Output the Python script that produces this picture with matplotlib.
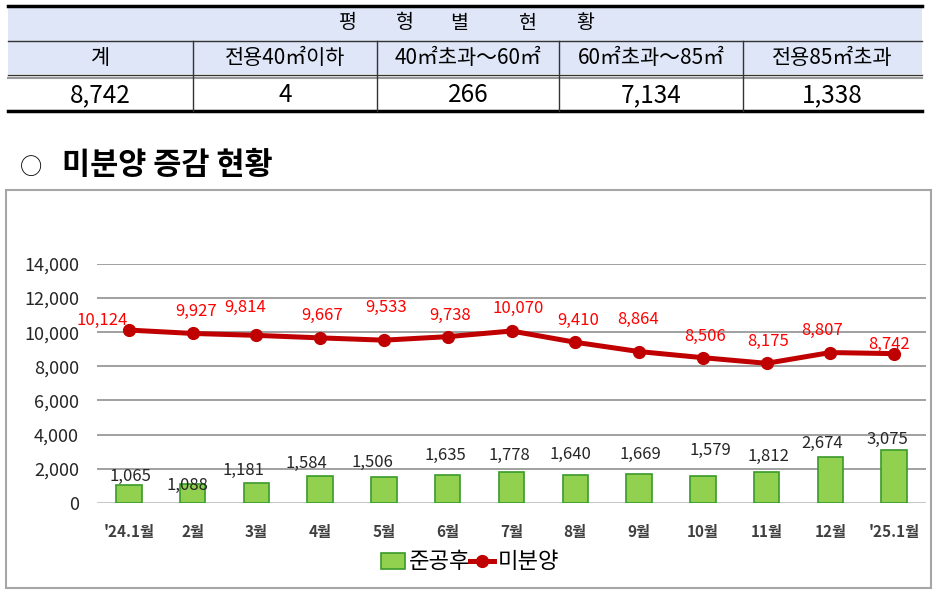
import matplotlib
matplotlib.use("Agg")
import matplotlib.pyplot as plt
from matplotlib.patches import Rectangle
from matplotlib.lines import Line2D

plt.rcParams['font.family'] = ['Noto Sans CJK KR', 'DejaVu Sans']

# 평형별 현황 표
table_title = ["평", "형", "별", "현", "황"]
size_headers = ["계", "전용40㎡이하", "40㎡초과～60㎡", "60㎡초과～85㎡", "전용85㎡초과"]
size_values = [8742, 4, 266, 7134, 1338]

# 미분양 증감 현황
months = ["'24.1월", "2월", "3월", "4월", "5월", "6월", "7월", "8월", "9월",
          "10월", "11월", "12월", "'25.1월"]
after_completion = [1065, 1088, 1181, 1584, 1506, 1635, 1778, 1640, 1669, 1579, 1812, 2674, 3075]
unsold = [10124, 9927, 9814, 9667, 9533, 9738, 10070, 9410, 8864, 8506, 8175, 8807, 8742]

# 라벨 위치 미세 조정 (pixel)
title_char_dx = [-118, -61, -7, 62, 119]
line_label_off = [(-27, 10), (3, 22), (-11, 28), (2, 22), (2, 33), (2, 21), (7, 23),
                  (3, 22), (-1, 32), (2, 21), (2, 22), (-8, 22), (-5, 9)]
bar_label_off = [(2, 8), (-5, -1), (-13, 12), (-14, 12), (-12, 15), (-2, 19), (-2, 17),
                 (-5, 20), (1, 20), (8, 25), (2, 15), (-8, 14), (-7, 11)]

W, H = 936, 592
fig = plt.figure(figsize=(W / 100, H / 100), dpi=100)

# 배경(픽셀 좌표)용 축
bg = fig.add_axes([0, 0, 1, 1])
bg.set_xlim(0, W)
bg.set_ylim(H, 0)
bg.axis('off')

# --- 표 ---
tx0, tx1 = 8, 922
col_edges = [tx0, 193, 377, 559, 743, tx1]
bg.add_patch(Rectangle((tx0, 6), tx1 - tx0, 68, facecolor='#dfe6f7', edgecolor='none'))
bg.plot([tx0, tx1], [6, 6], color='black', lw=2.5)
bg.plot([tx0, tx1], [41, 41], color='#333333', lw=1)
bg.plot([tx0, tx1], [74.5, 74.5], color='#333333', lw=1)
bg.plot([tx0, tx1], [77.5, 77.5], color='#999999', lw=1.5)
bg.plot([tx0, tx1], [111, 111], color='black', lw=2.5)
for x in col_edges[1:-1]:
    bg.plot([x, x], [41, 111], color='#333333', lw=1)

for ch, dx in zip(table_title, title_char_dx):
    bg.text(466 + dx, 23, ch, ha='center', va='center', fontsize=14, color='black')
for i, (h, v) in enumerate(zip(size_headers, size_values)):
    cx = (col_edges[i] + col_edges[i + 1]) / 2
    bg.text(cx, 58, h, ha='center', va='center', fontsize=15, color='black')
    bg.text(cx, 95, f"{v:,}", ha='center', va='center', fontsize=17.5, color='black')

# --- 제목 ---
bg.text(20, 167, "○", ha='left', va='center', fontsize=16, color='black')
bg.text(62, 165, "미분양 증감 현황", ha='left', va='center', fontsize=22,
        fontweight='bold', color='black')

# --- 차트 테두리 ---
bg.add_patch(Rectangle((6, 190), 925, 398, facecolor='none', edgecolor='#a6a6a6', lw=1.5))

# --- 차트 ---
ax_l, ax_r, ax_t, ax_b = 97, 926, 264, 502.7
ax = fig.add_axes([ax_l / W, (H - ax_b) / H, (ax_r - ax_l) / W, (ax_b - ax_t) / H])
ax.set_facecolor('none')
x = list(range(len(months)))

ax.bar(x, after_completion, width=0.4, color='#92d050', edgecolor='#3a9a2a',
       linewidth=1.2, zorder=2, label='준공후')
ax.plot(x, unsold, color='#c00000', lw=3.6, marker='o', markersize=8.5,
        zorder=4, label='미분양')

for i, v in enumerate(unsold):
    dx, dy = line_label_off[i]
    ax.annotate(f"{v:,}", (i, v), xytext=(dx, dy), textcoords='offset pixels',
                ha='center', va='center', fontsize=12, color='#ff0000', zorder=5)
for i, v in enumerate(after_completion):
    dx, dy = bar_label_off[i]
    ax.annotate(f"{v:,}", (i, v), xytext=(dx, dy), textcoords='offset pixels',
                ha='center', va='center', fontsize=12, color='#262626', zorder=5)

ax.set_xlim(-0.5, len(months) - 0.5)
ax.set_ylim(0, 14000)
ax.set_yticks(range(0, 14001, 2000))
ax.set_yticklabels([f"{t:,}" for t in range(0, 14001, 2000)])
ax.set_xticks(x)
ax.set_xticklabels(months, fontweight='bold')
ax.tick_params(axis='y', length=0, pad=13, labelsize=13, labelcolor='#262626')
ax.tick_params(axis='x', length=0, pad=15, labelsize=11, labelcolor='#404040')
for s in ax.spines.values():
    s.set_visible(False)
ax.yaxis.grid(True, color='#999999', lw=1.3, zorder=0)
ax.set_axisbelow(True)
ax.axhline(0, color='#c8c8c8', lw=1.5, zorder=1)

handles = [Rectangle((0, 0), 1, 1, facecolor='#92d050', edgecolor='#3a9a2a', lw=1.2),
           Line2D([], [], color='#c00000', lw=3.6, marker='o', markersize=8.5)]
fig.legend(handles, ['준공후', '미분양'], loc='center', ncol=2, frameon=False,
           bbox_to_anchor=(470 / W, (H - 562) / H), fontsize=16,
           handlelength=1.1, handletextpad=0.15, columnspacing=0.0, borderpad=0)

fig.savefig('out.png', dpi=100)
